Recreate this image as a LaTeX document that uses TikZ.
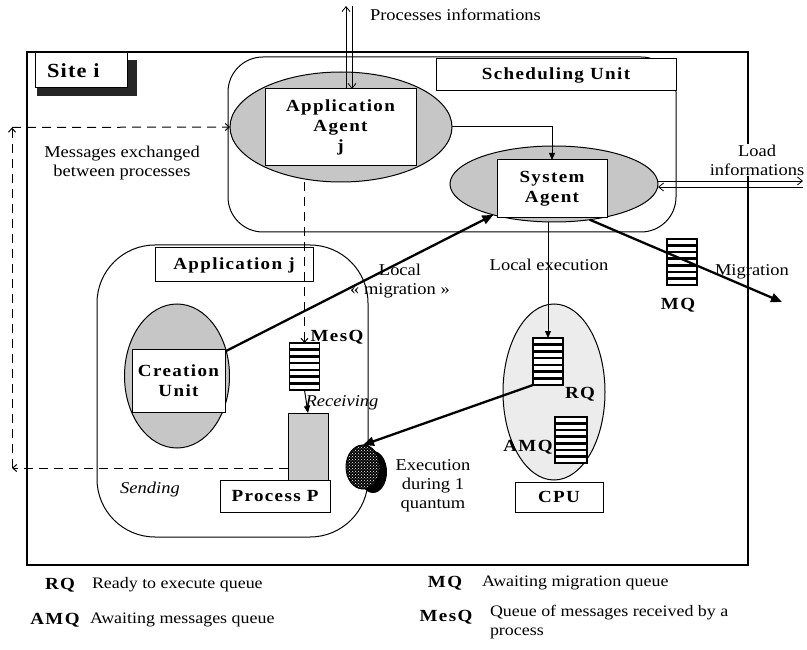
\documentclass[tikz,border=0pt]{standalone}
\usepackage{fontspec}
\setmainfont[FakeStretch=1.12]{Liberation Serif}
\usepackage{tikz}
\usetikzlibrary{shapes.geometric,arrows.meta,patterns,calc}

\newcommand\lblfont{\fontsize{17}{20}\selectfont\bfseries\addfontfeatures{LetterSpace=8}}
\newcommand\txtfont{\fontsize{16.5}{19}\selectfont}
\newcommand\legfont{\fontsize{16}{19}\selectfont}

\begin{document}
\begin{tikzpicture}[x=1pt,y=-1pt,
  every node/.style={inner sep=0pt, outer sep=0pt, font=\txtfont},
  box/.style={draw, fill=white, line width=1pt, font=\lblfont, align=center},
  agent/.style={ellipse, draw, fill=gray!45, line width=1pt},
  queue/.style={draw, fill=white, line width=1.2pt, minimum width=30pt, minimum height=47pt,
    path picture={\foreach \k in {1,...,6}{\draw[line width=2.6pt]
      ($(path picture bounding box.north west)!\k/7!(path picture bounding box.south west)$) --
      ($(path picture bounding box.north east)!\k/7!(path picture bounding box.south east)$);}}},
  tag/.style={font=\lblfont},
  leg/.style={anchor=west, font=\legfont},
  arr/.style={line width=1pt, -{Triangle[length=7pt,width=6pt]}},
  thickarr/.style={line width=2.3pt, -{Triangle[length=11pt,width=9pt]}},
  dasharr/.style={line width=1pt, dash pattern=on 9pt off 6pt, -{Straight Barb[length=4pt,width=7pt]}},
  infoarr/.style={line width=0.8pt, -{Straight Barb[length=5pt,width=8pt]}}]
\useasboundingbox (0,0) rectangle (807,650);

\draw[line width=1.2pt] (27,52) rectangle (748,565);
\fill[black!85] (37,60) rectangle (137,96);
\node[box, minimum width=92pt, minimum height=35pt, text width=68pt, align=left, font=\fontsize{20}{22}\selectfont\bfseries\addfontfeatures{LetterSpace=6}] (site) at (81,70.5) {Site i};

\draw[line width=1pt, rounded corners=35pt] (228,57) rectangle (676,232);
\node[box, minimum width=240pt, minimum height=32pt] (sched) at (556,75) {Scheduling Unit};

\draw[line width=1pt, rounded corners=58pt] (97,245) rectangle (368,537);
\node[box, minimum width=158pt, minimum height=34pt] (appj) at (234,265) {Application j};

\node[agent, minimum width=222pt, minimum height=110pt] (aa) at (341,127) {};
\node[box, minimum width=151pt, minimum height=77pt] (aabox) at (340.5,127.5) {Application\\Agent\\j};
\node[agent, minimum width=208pt, minimum height=76pt] (sa) at (554,184) {};
\node[box, minimum width=110pt, minimum height=58pt] (sabox) at (552,189) {System\\Agent};
\node[agent, minimum width=105pt, minimum height=144pt] (cu) at (177,376) {};
\node[box, minimum width=93pt, minimum height=63pt] (cubox) at (178.5,380.5) {Creation\\Unit};
\node[ellipse, draw, fill=gray!15, line width=1pt, minimum width=102pt, minimum height=176pt] (cpu) at (554,392) {};
\node[box, minimum width=88pt, minimum height=30pt] (cpubox) at (559,497) {CPU};

\node[queue] (mesq) at (304.5,366.5) {};
\node[queue] (rq) at (548,361.5) {};
\node[queue, minimum width=32pt, minimum height=46pt] (amq) at (571,440) {};
\node[queue, minimum height=46pt] (mq) at (682,262) {};
\node[draw, fill=gray!40, line width=1pt, minimum width=40pt, minimum height=67pt] (proc) at (308,446.5) {};
\node[box, minimum width=110pt, minimum height=32pt] (procbox) at (275,496) {Process P};

\fill[black] (373,472) ellipse [x radius=14, y radius=21];
\node[ellipse, draw, line width=1pt, minimum width=34pt, minimum height=44pt, preaction={fill=black}, pattern=crosshatch dots, pattern color=white] (exec) at (363,467) {};

\node[tag] at (337,337) {MesQ};
\node[tag] at (580,394) {RQ};
\node[tag] at (528,447) {AMQ};
\node[tag] at (678,305) {MQ};

\coordinate (pin) at (349,6);
\coordinate (lin) at (803,190);
\coordinate (ml) at (12,127.5);
\coordinate (mb) at (12,468);
\coordinate (migend) at (782,302);

\draw[infoarr] ([xshift=-3pt]pin |- aabox.north) -- ([xshift=-3pt]pin);
\draw[infoarr] ([xshift=3pt]pin) -- ([xshift=3pt]pin |- aabox.north);
\node[anchor=west] (pinfo) at (370,15) {Processes informations};

\draw[infoarr] ([yshift=3pt]sa.east) -- ([yshift=3pt]sa.east -| lin);
\draw[infoarr] ([yshift=-3pt]sa.east -| lin) -- ([yshift=-3pt]sa.east);
\node[fill=white, align=center, inner sep=1pt] (linfo) at (757,160) {Load\\informations};

\draw[arr] (aa.east) -| (sabox.north);
\node[fill=white, inner sep=2pt] (lexec) at (549,265) {Local execution};
\draw[arr] (rq.north |- sa.south) -- (rq.north);

\draw[dasharr] (mesq.north |- aa.south) -- (mesq.north);
\draw[arr] (mesq.south) -- (proc.north);
\node[font=\txtfont\itshape] at (342,403) {Receiving};

\draw[dasharr] (proc.west |- mb) -- (mb);
\draw[dasharr] (mb) -- (ml);
\draw[dasharr] (ml) -- (aa.west);
\node[align=center] (mex) at (122,163) {Messages exchanged\\between processes};
\node[font=\txtfont\itshape] at (150,490) {Sending};

\draw[thickarr] (cu) -- (sa);
\node[align=center] (lmig) at (400,281) {Local\\« migration »};
\draw[thickarr] (sa.-45) -- (migend);
\node (mig) at (752,272) {Migration};
\draw[thickarr] (rq.south west) -- (exec.north);
\node[align=center] (execlbl) at (433,486) {Execution\\during 1\\quantum};

\node[tag] at (60,585) {RQ};
\node[leg] at (92,585) {Ready to execute queue};
\node[tag] at (55,620) {AMQ};
\node[leg] at (90,620) {Awaiting messages queue};
\node[tag] at (445,583) {MQ};
\node[leg] at (482,583) {Awaiting migration queue};
\node[tag] at (446,617) {MesQ};
\node[leg, anchor=north west, align=left] at (490,605) {Queue of messages received by a\\process};
\end{tikzpicture}
\end{document}
